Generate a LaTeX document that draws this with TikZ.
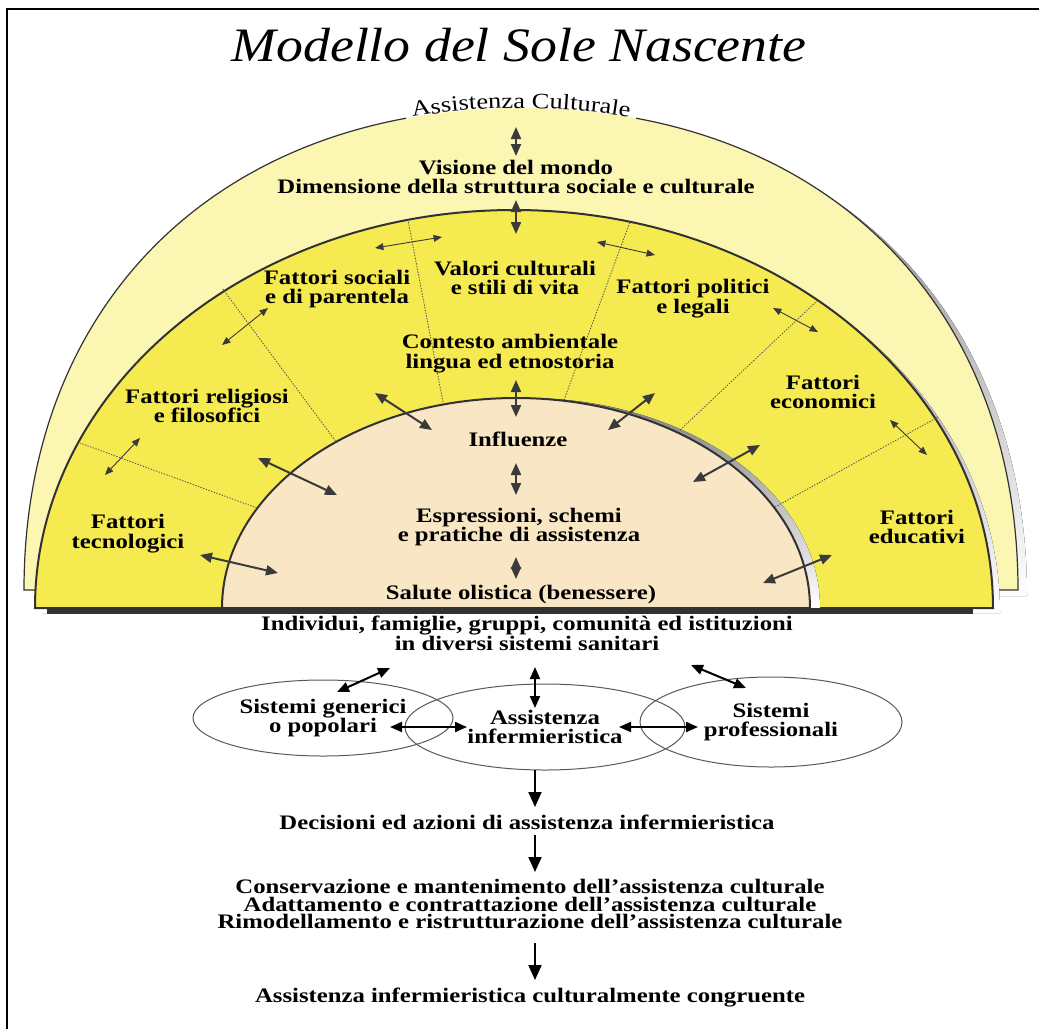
\documentclass[tikz,border=0pt]{standalone}
\usepackage{fontspec}
\setmainfont{Liberation Serif}[FakeStretch=1.2]
\newfontfamily\titlefont{Liberation Serif}[FakeStretch=1.12]
\usepackage{tikz}
\usetikzlibrary{arrows.meta,shapes.geometric,decorations.text}
\definecolor{sunlight}{RGB}{251,246,178}
\definecolor{sunmid}{RGB}{245,234,80}
\definecolor{suncore}{RGB}{249,230,196}
\definecolor{shade}{RGB}{190,190,190}
\definecolor{rim}{RGB}{50,50,50}
\definecolor{tipgray}{RGB}{58,58,58}
\newcommand{\outerrim}{(24,590) .. controls (24,299) and (223,108) .. (521,108) .. controls (819,108) and (1018,299) .. (1018,590) -- cycle}
\newcommand{\midrim}{(35,608) arc[start angle=180,end angle=360,x radius=479,y radius=398] -- cycle}
\newcommand{\corerim}{(222,608) arc[start angle=180,end angle=360,x radius=294,y radius=210] -- cycle}
\tikzset{
  lbl/.style   ={font=\bfseries\fontsize{10.3}{9.9}\selectfont,align=center,inner sep=0pt},
  ttl/.style   ={font=\titlefont\itshape\fontsize{24}{28}\selectfont,inner sep=0pt},
  ring/.style  ={ellipse,draw=black!65,line width=0.5pt,inner sep=0pt,
                 font=\bfseries\fontsize{10.3}{9.9}\selectfont,align=center},
  sector/.style={draw=rim!85,line width=0.4pt,dash pattern=on 0.7pt off 0.7pt},
  fine/.style  ={tipgray,line width=0.45pt,{Triangle[length=4.2pt,width=3.4pt]}-{Triangle[length=4.2pt,width=3.4pt]}},
  link/.style  ={tipgray,line width=1pt,{Triangle[length=6pt,width=5pt]}-{Triangle[length=6pt,width=5pt]}},
  tie/.style   ={black,line width=1pt,{Triangle[length=6pt,width=5pt]}-{Triangle[length=6pt,width=5pt]}},
  flow/.style  ={black,line width=1pt,-{Triangle[length=7.5pt,width=6.5pt]}},
}
\begin{document}
\begin{tikzpicture}[x=0.5pt,y=-0.5pt]
  \fill[white] (0,0) rectangle (1039,1029);
  \useasboundingbox (0,0) rectangle (1039,1029);
  \draw[line width=1pt] (7,1029) -- (7,9) -- (1039,9);

  \node[ttl] (title) at (519,45) {Modello del Sole Nascente};

  % outer band
  \begin{scope}[shift={(9,6)}] \fill[shade] \outerrim; \end{scope}
  \fill[sunlight] \outerrim;
  \begin{scope}
    \clip (0,0) rectangle (406,700) (636,0) rectangle (1039,700);
    \draw[rim,line width=0.6pt] \outerrim;
  \end{scope}
  \path[decorate,decoration={text along path,text align=center,
        text={|\fontsize{11}{12}\selectfont|Assistenza Culturale}}]
    (24,590) .. controls (24,299) and (223,108) .. (521,108) .. controls (819,108) and (1018,299) .. (1018,590);

  % middle band and core
  \begin{scope}[shift={(7,5)}] \fill[shade] \midrim; \end{scope}
  \filldraw[fill=sunmid,draw=rim,line width=1pt] \midrim;
  \begin{scope}[shift={(10,0)}] \fill[shade] \corerim; \end{scope}
  \filldraw[fill=suncore,draw=rim,line width=1pt] \corerim;
  \fill[rim] (47,608) rectangle (973,614);

  % borders between the factors
  \foreach \ix/\iy/\ox/\oy in {257/508/80/443, 337/443/222/288, 443/402/408/220,
                               564/400/630/222, 680/430/818/300, 775/507/938/417}
    \draw[sector] (\ix,\iy) -- (\ox,\oy);

  \node[lbl] (visione) at (516,177) {Visione del mondo\\Dimensione della struttura sociale e culturale};
  \node[lbl] (sociali) at (337,289) {Fattori sociali\\e di parentela};
  \node[lbl] (valori) at (515,278) {Valori culturali\\e stili di vita};
  \node[lbl] (politici) at (693,299) {Fattori politici\\e legali};
  \node[lbl] (contesto) at (510,354) {Contesto ambientale\\lingua ed etnostoria};
  \node[lbl] (religiosi) at (207,406) {Fattori religiosi\\e filosofici};
  \node[lbl] (economici) at (823,392) {Fattori\\economici};
  \node[lbl] (influenze) at (518,439) {Influenze};
  \node[lbl] (tecnologici) at (128,534) {Fattori\\tecnologici};
  \node[lbl] (educativi) at (917,527) {Fattori\\educativi};
  \node[lbl] (espressioni) at (519,527) {Espressioni, schemi\\e pratiche di assistenza};
  \node[lbl] (salute) at (521,595) {Salute olistica (benessere)};

  % thin arrows across the borders
  \foreach \n/\ax/\ay/\bx/\by in {a1/375/248/442/237, a2/222/345/268/308, a3/105/475/140/438,
                                  a4/597/242/655/255, a5/773/308/818/332, a6/890/420/927/455}{
    \coordinate (\n s) at (\ax,\ay); \coordinate (\n e) at (\bx,\by);
    \draw[fine] (\n s) -- (\n e);
  }
  % arrows into the core
  \foreach \n/\ax/\ay/\bx/\by in {b1/375/393/432/430, b2/258/458/337/495, b3/200/555/278/573,
                                  b4/655/393/608/430, b5/760/445/693/482, b6/832/555/763/583}{
    \coordinate (\n s) at (\ax,\ay); \coordinate (\n e) at (\bx,\by);
    \draw[link] (\n s) -- (\n e);
  }
  % central column
  \foreach \n/\ya/\yb in {c1/127/156, c2/200/234, c3/380/417, c4/463/495, c5/557/579}{
    \coordinate (\n s) at (516,\ya); \coordinate (\n e) at (516,\yb);
    \draw[link] (\n s) -- (\n e);
  }

  % health systems
  \node[lbl] (individui) at (527,633) {Individui, famiglie, gruppi, comunità ed istituzioni\\in diversi sistemi sanitari};
  \node[ring,minimum width=130pt,minimum height=38pt] (generici) at (323,718) {Sistemi generici\\o popolari};
  \node[ring,minimum width=140pt,minimum height=43pt] (infermieri) at (545,727) {Assistenza\\infermieristica};
  \node[ring,minimum width=131pt,minimum height=45pt] (profess) at (771,722) {Sistemi\\professionali};
  \foreach \n/\ax/\ay/\bx/\by in {d1/337/692/390/668, d2/535/667/535/708, d3/691/665/746/688,
                                  d4/390/727/467/727, d5/619/727/698/727}{
    \coordinate (\n s) at (\ax,\ay); \coordinate (\n e) at (\bx,\by);
    \draw[tie] (\n s) -- (\n e);
  }

  % decisions and actions
  \node[lbl] (decisioni) at (527,822) {Decisioni ed azioni di assistenza infermieristica};
  \node[lbl,font=\bfseries\fontsize{10.3}{8.8}\selectfont] (strategie) at (530,904)
    {Conservazione e mantenimento dell'assistenza culturale\\
     Adattamento e contrattazione dell'assistenza culturale\\
     Rimodellamento e ristrutturazione dell'assistenza culturale};
  \node[lbl] (congruente) at (530,998) {Assistenza infermieristica culturalmente congruente};
  \foreach \n/\ya/\yb in {f1/770/807, f2/835/872, f3/943/980}{
    \coordinate (\n s) at (535,\ya); \coordinate (\n e) at (535,\yb);
    \draw[flow] (\n s) -- (\n e);
  }
\end{tikzpicture}
\end{document}
